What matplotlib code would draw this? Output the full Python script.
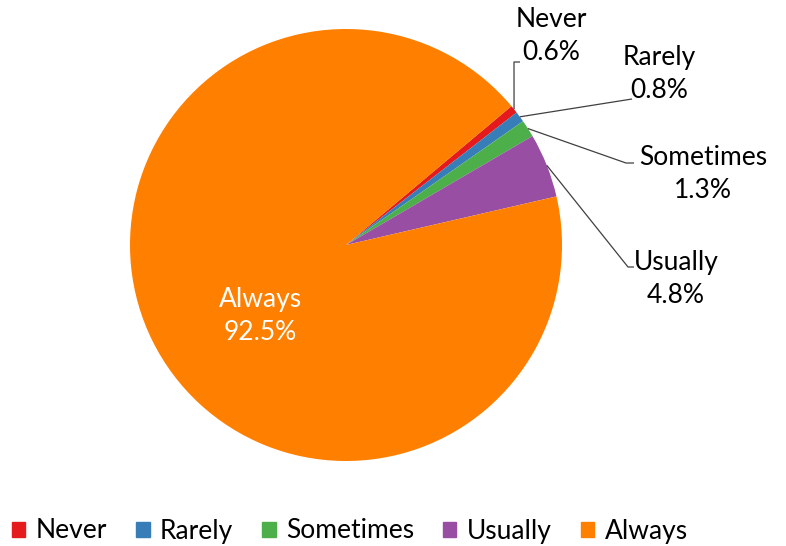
import numpy as np
import matplotlib.pyplot as plt

plt.rcParams['font.family'] = ['Lato', 'DejaVu Sans']

categories = ["Never", "Rarely", "Sometimes", "Usually", "Always"]
shares = [0.6, 0.8, 1.3, 4.8, 92.5]
colors = ["#e41a1c", "#377eb8", "#4daf4a", "#984ea3", "#ff7f00"]

W, H = 786, 546
CX, CY, R = 346, H - 245, 216
START = 40.0

fig = plt.figure(figsize=(W / 100, H / 100), dpi=100)
ax = fig.add_axes([0, 0, 1, 1])
ax.axis("off")

wedges, _ = ax.pie(shares, colors=colors, startangle=START, counterclock=False,
                   center=(CX, CY), radius=R, wedgeprops=dict(linewidth=0))
ax.set_xlim(0, W)
ax.set_ylim(0, H)
ax.set_aspect("equal")

# mid-angle of each slice, where leaders attach
cum = np.cumsum([0] + shares[:-1])
mids = START - (cum + np.array(shares) / 2) * 3.6

def edge(i):
    a = np.radians(mids[i])
    return CX + R * np.cos(a), CY + R * np.sin(a)

# label layout in image pixels: (text x, text centre y, leader path after edge)
layout = {
    0: (551, 36, [(514, 62), (520, 62)]),
    1: (659, 74, [(632, 99)]),
    2: (703, 174, [(626, 163), (634, 163)]),
    3: (676, 279, [(628, 267), (634, 267)]),
}
fs = 19
ls = 1.38
for i, (tx, ty, path) in layout.items():
    x0, y0 = edge(i)
    xs = [x0] + [p[0] for p in path]
    ys = [y0] + [H - p[1] for p in path]
    ax.plot(xs, ys, color="#404040", lw=0.9, solid_capstyle="butt")
    ax.text(tx, H - ty, f"{categories[i]}\n{shares[i]:.1f}%", ha="center", va="center",
            fontsize=fs, color="black", linespacing=ls)

ax.text(260, H - 316, f"{categories[4]}\n{shares[4]:.1f}%", ha="center", va="center",
        fontsize=fs, color="white", linespacing=ls)

handles = [plt.Rectangle((0, 0), 1, 1, color=c) for c in colors]
fig.legend(handles, categories, loc="center", bbox_to_anchor=(350 / W, 1 - 531 / H),
           ncol=5, frameon=False, fontsize=fs, handlelength=0.5, handleheight=0.5,
           handletextpad=0.4, columnspacing=1.1)

fig.savefig("out.png", dpi=100)
